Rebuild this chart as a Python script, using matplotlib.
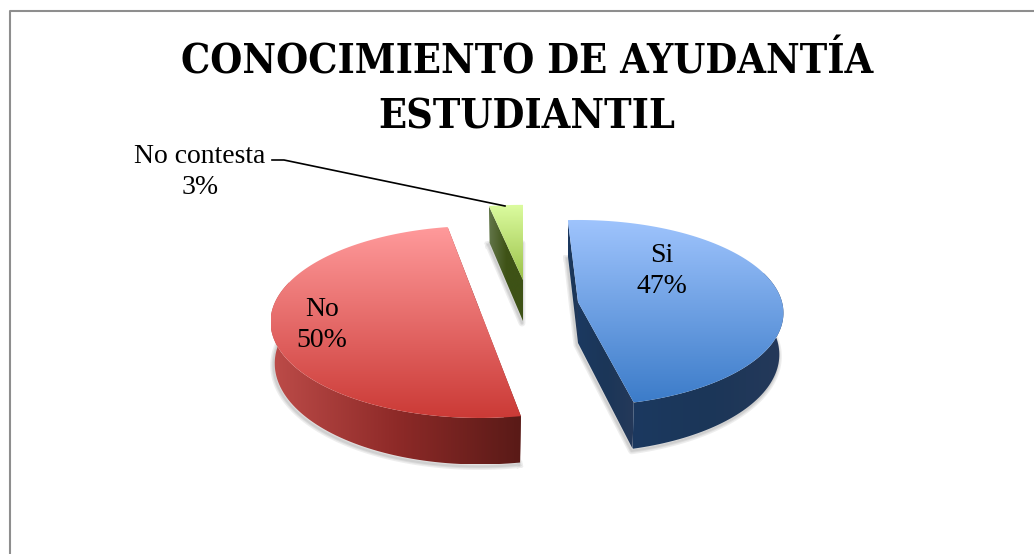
import numpy as np
import matplotlib
matplotlib.use('Agg')
import matplotlib.pyplot as plt
from matplotlib.colors import LinearSegmentedColormap
from matplotlib.patches import Polygon

# Data
labels = ['Si', 'No', 'No contesta']
values = [47, 50, 3]
title = 'CONOCIMIENTO DE AYUDANTÍA\nESTUDIANTIL'

# Look of each slice (top gradient light to dark, side gradient left to right)
top_colors = [['#9fc4fd', '#3c7cc9'], ['#ff9a9b', '#cb3a36'], ['#dcfca0', '#9cc24a']]
side_colors = [['#1c3960', '#1b3658', '#25395a'], ['#bd4c49', '#8e2a28', '#591a17'], ['#63764a', '#3e5216', '#3e5216']]

# Projected position of each exploded slice: apex x/y, half width, half height, turn
apex_x = [578, 480, 523]
apex_y = [302, 310.6, 280]
half_w = [204, 208, 203]
half_h = [91.7, 94.7, 84]
turn = [-3.2, 0.8, 0]
persp = 0.118
depth = 41


def project(t, cx, cy, f, g):
    # circle seen with perspective, t clockwise from the far side
    u = np.sin(np.radians(t))
    v = -np.cos(np.radians(t))
    s = 1 / (1 - persp * v)
    return cx + f * u * s, cy + g * v * s, s


def lower(x, y, s, cx):
    return cx + (x - cx) * 0.98, y + depth * s


def fill_gradient(ax, pts, colors, horizontal=False, zorder=2):
    # paint a gradient clipped to a polygon
    pts = np.array(pts)
    patch = Polygon(pts, closed=True, fc='none', ec='none')
    ax.add_patch(patch)
    cmap = LinearSegmentedColormap.from_list('g', colors)
    ramp = np.linspace(0, 1, 256)
    ramp = ramp.reshape(1, -1) if horizontal else ramp.reshape(-1, 1)
    x0, y0 = pts.min(axis=0)
    x1, y1 = pts.max(axis=0)
    im = ax.imshow(ramp, cmap=cmap, extent=[x0, x1, y1, y0], aspect='auto',
                   interpolation='bilinear', zorder=zorder)
    im.set_clip_path(patch)


fig = plt.figure(figsize=(10.34, 5.54), dpi=100)
ax = fig.add_axes([0, 0, 1, 1])

# chart frame, only left and top show
ax.plot([9.5, 9.5, 1034], [554, 10.5, 10.5], color='#8e8e8e', lw=1.5, zorder=1)

start = 0
for i, val in enumerate(values):
    sweep = val * 3.6
    cx, cy, f, g = apex_x[i], apex_y[i], half_w[i], half_h[i]
    ts = np.linspace(start + turn[i], start + turn[i] + sweep, 120)
    x, y, s = project(ts, cx, cy, f, g)
    xb, yb = lower(x, y, s, cx)
    ax_b, ay_b = lower(cx, cy, 1, cx)

    # soft shadow under the slice, lower edge only
    for lw in [5, 3, 1.5]:
        ax.plot(np.r_[xb, ax_b, xb[0]] - 1, np.r_[yb, ay_b, yb[0]] + 2, color='#555555', lw=lw, alpha=0.1, zorder=1.5)

    # cut faces and the outer wall
    fill_gradient(ax, [(cx, cy), (x[0], y[0]), (xb[0], yb[0]), (ax_b, ay_b)], side_colors[i], True, 2)
    fill_gradient(ax, [(cx, cy), (x[-1], y[-1]), (xb[-1], yb[-1]), (ax_b, ay_b)], side_colors[i], True, 2)
    front = y > cy - 30
    if front.any():
        wall = np.r_[np.column_stack([x[front], y[front]]), np.column_stack([xb[front], yb[front]])[::-1]]
        fill_gradient(ax, wall, side_colors[i], True, 2.1)

    # top face
    fill_gradient(ax, np.column_stack([np.r_[cx, x], np.r_[cy, y]]), top_colors[i], False, 3)
    start += sweep

# labels
font = 'Liberation Serif'
ax.text(662, 271, f'{labels[0]}\n{values[0]}%', ha='center', va='center', fontsize=20, family=font, linespacing=1.35, zorder=5)
ax.text(322, 325, f'{labels[1]}\n{values[1]}%', ha='center', va='center', fontsize=20, family=font, linespacing=1.35, zorder=5)
ax.text(200, 172, f'{labels[2]}\n{values[2]}%', ha='center', va='center', fontsize=20, family=font, linespacing=1.35, zorder=5)
ax.plot([272, 284, 505], [160, 160, 206], color='black', lw=1.2, zorder=5)

ax.text(527, 90, title, ha='center', va='center', fontsize=29.5, family='DejaVu Serif', stretch='condensed', fontweight='bold', linespacing=1.46, zorder=5)

ax.set_xlim(0, 1034)
ax.set_ylim(554, 0)
ax.axis('off')
fig.savefig('out.png', dpi=100, facecolor='white')
